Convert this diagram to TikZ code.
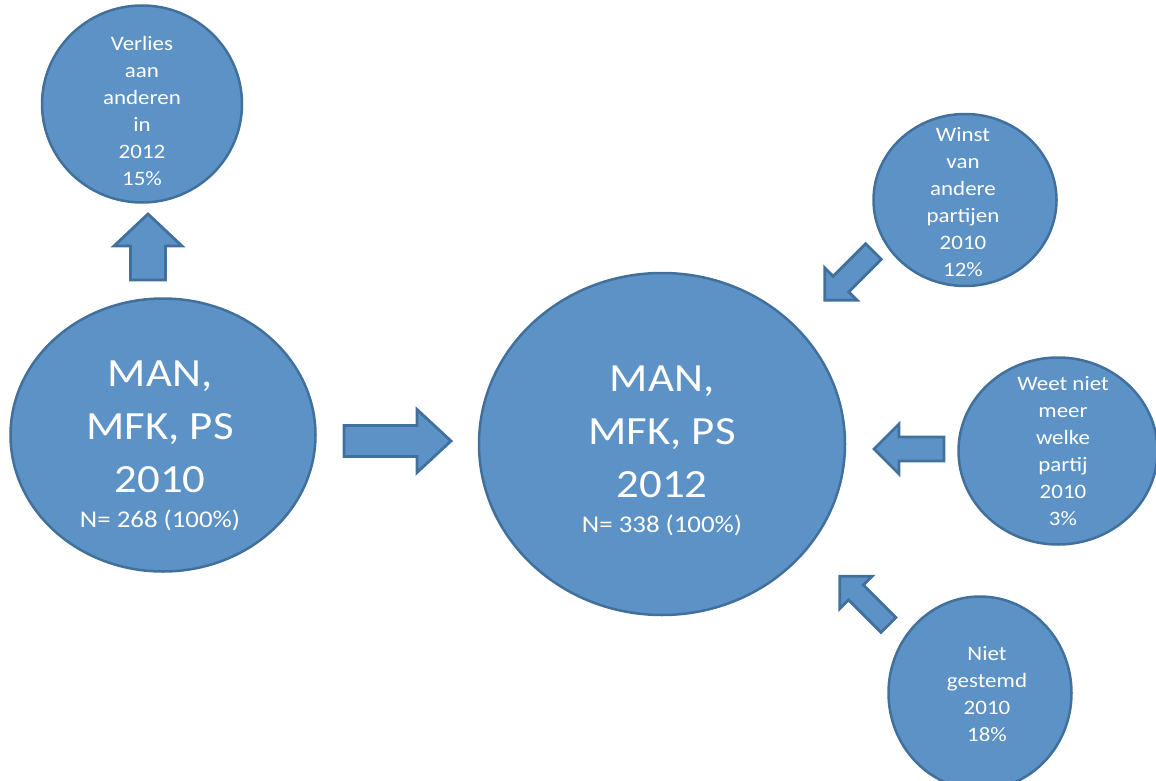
\documentclass[tikz,border=0pt]{standalone}
\usepackage{fontspec}
\newfontfamily\calib[FakeStretch=1.12]{Carlito}
\usetikzlibrary{shapes.geometric}
\definecolor{bfill}{RGB}{92,146,197}
\definecolor{bdraw}{RGB}{65,112,156}
\tikzset{
  circ/.style={ellipse, draw=bdraw, fill=bfill, line width=2.5pt, inner sep=0pt},
  barrow/.style={draw=bdraw, fill=bfill, line width=2.8pt, line join=miter},
  smalltxt/.style={text=white, align=center, font=\calib\fontsize{20.5}{27}\selectfont, inner sep=0pt},
  bigtxt/.style={text=white, align=center, font=\calib\fontsize{40}{53}\selectfont, inner sep=0pt},
  ntxt/.style={text=white, align=center, font=\calib\fontsize{24}{28}\selectfont, inner sep=0pt}
}
% x y angle length shaftwidth headwidth headlength
\newcommand{\blockarr}[7]{%
  \begin{scope}[shift={(#1,#2)},rotate=#3]
    \draw[barrow] (0,-#5/2) -- (#4-#7,-#5/2) -- (#4-#7,-#6/2) -- (#4,0)
      -- (#4-#7,#6/2) -- (#4-#7,#5/2) -- (0,#5/2) -- cycle;
  \end{scope}}
\begin{document}
\begin{tikzpicture}[x=1pt,y=-1pt]
\useasboundingbox (0,0) rectangle (1156,781);
% circles
\node[circ, minimum width=200pt, minimum height=197pt] (verlies) at (142,104) {};
\node[circ, minimum width=305pt, minimum height=273pt] (c2010) at (163,435) {};
\node[circ, minimum width=366pt, minimum height=342pt] (c2012) at (662,444) {};
\node[circ, minimum width=183pt, minimum height=172pt] (winst) at (965,200) {};
\node[circ, minimum width=199pt, minimum height=187pt] (weet) at (1058,451) {};
\node[circ, minimum width=183pt, minimum height=193pt] (niet) at (980,693) {};
% texts
\node[smalltxt] (tverlies) at (142,111) {Verlies\\aan\\anderen\\in\\2012\\15\%};
\node[bigtxt] (t2010) at (160,427) {MAN,\\MFK, PS\\2010};
\node[ntxt] (n2010) at (160,520) {N= 268 (100\%)};
\node[bigtxt] (t2012) at (662,432) {MAN,\\MFK, PS\\2012};
\node[ntxt] (n2012) at (662,525) {N= 338 (100\%)};
\node[smalltxt] (twinst) at (963,202) {Winst\\van\\andere\\partijen\\2010\\12\%};
\node[smalltxt] (tweet) at (1063,451) {Weet niet\\meer\\welke\\partij\\2010\\3\%};
\node[smalltxt] (tniet) at (987,694) {Niet\\gestemd\\2010\\18\%};
% block arrows
\blockarr{148}{280}{90}{66}{35}{68}{32}
\blockarr{344}{441}{0}{107}{31}{63}{34}
\blockarr{873.5}{251.5}{225}{69}{22}{46}{23}
\blockarr{944}{449}{180}{70}{24}{50}{25}
\blockarr{888.5}{625}{135}{69}{21}{46}{23}
\end{tikzpicture}
\end{document}
